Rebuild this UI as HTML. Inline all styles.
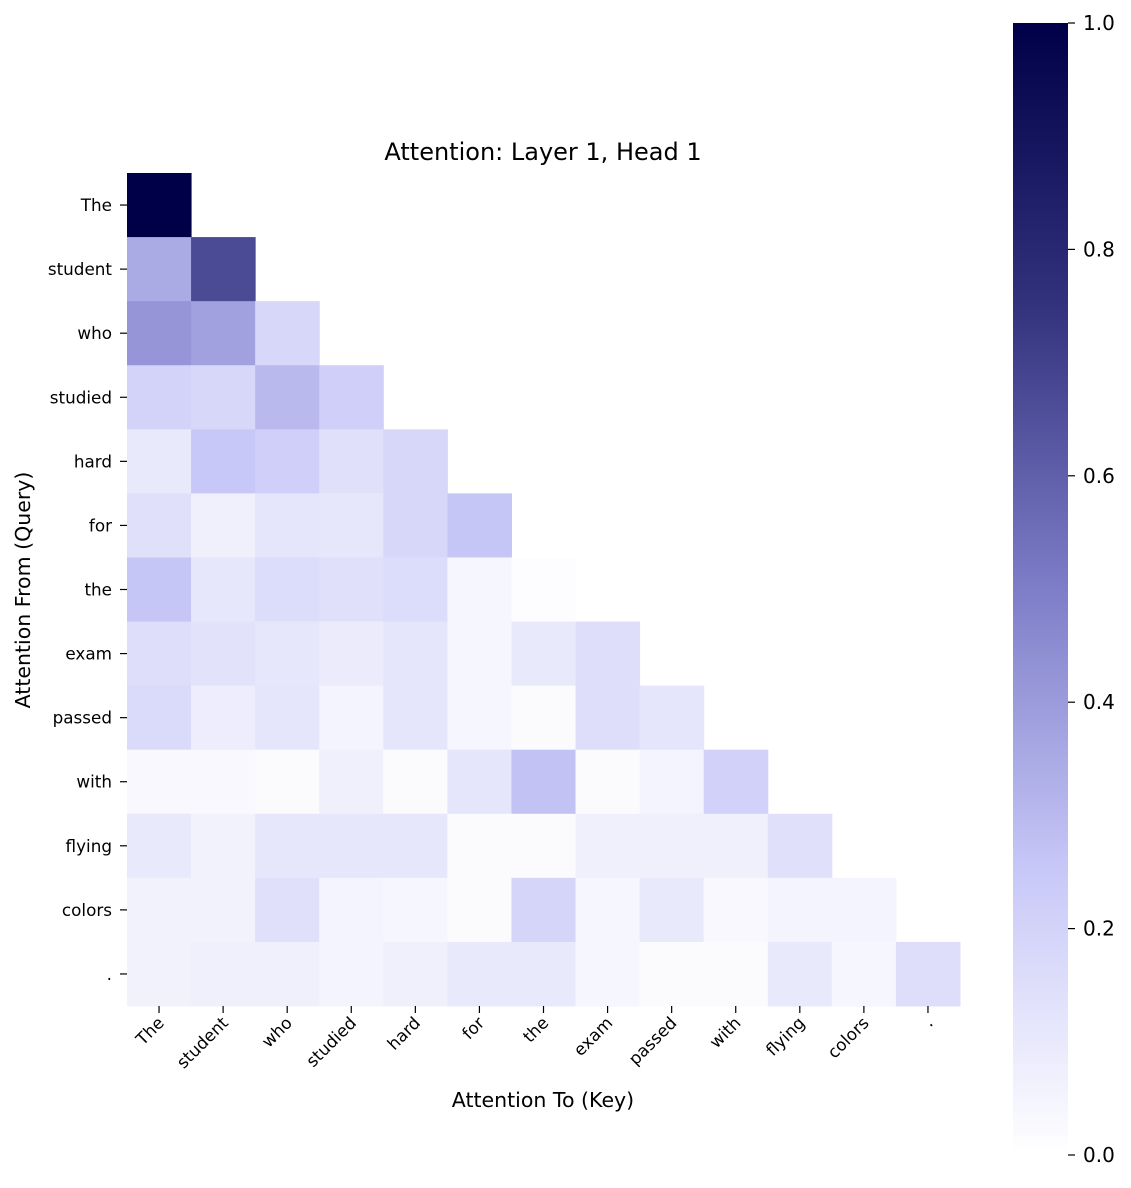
<!DOCTYPE html>
<html><head><meta charset="utf-8"><style>
html,body{margin:0;padding:0;background:#fff;}
svg text{font-family:"DejaVu Sans","Liberation Sans",sans-serif;fill:#000;}
</style></head><body>
<svg id="chart" width="1131" height="1183" viewBox="0 0 1131 1183" xmlns="http://www.w3.org/2000/svg">
<defs><linearGradient id="cbgrad" x1="0" y1="1" x2="0" y2="0">
<stop offset="0" stop-color="rgb(255,255,255)"/><stop offset="0.25" stop-color="rgb(200,200,248)"/><stop offset="0.5" stop-color="rgb(125,125,200)"/><stop offset="0.75" stop-color="rgb(50,50,125)"/><stop offset="1" stop-color="rgb(0,0,72)"/></linearGradient></defs>
<text x="543" y="160" font-size="24" text-anchor="middle">Attention: Layer 1, Head 1</text>
<g id="cells"></g>
<g id="yt"></g>
<g id="xt"></g>
<text x="543" y="1107" font-size="20.5" text-anchor="middle">Attention To (Key)</text>
<text x="0" y="0" font-size="20.5" text-anchor="middle" transform="translate(30,590) rotate(-90)">Attention From (Query)</text>
<rect x="1013" y="23" width="55" height="1132" fill="url(#cbgrad)"/>
<g id="cb"></g>
</svg>
<script>
const tokens = ["The","student","who","studied","hard","for","the","exam","passed","with","flying","colors","."];
const row0 = [1.0];
const row1 = [0.35,0.67];
const row2 = [0.42,0.38,0.18];
const row3 = [0.2,0.18,0.3,0.22];
const row4 = [0.1,0.25,0.22,0.14,0.18];
const row5 = [0.14,0.07,0.12,0.11,0.18,0.26];
const row6 = [0.26,0.11,0.16,0.14,0.16,0.04,0.01];
const row7 = [0.15,0.13,0.11,0.09,0.12,0.04,0.1,0.15];
const row8 = [0.17,0.08,0.12,0.05,0.12,0.04,0.02,0.15,0.12];
const row9 = [0.03,0.03,0.02,0.07,0.02,0.12,0.27,0.02,0.05,0.21];
const row10 = [0.1,0.06,0.11,0.11,0.11,0.02,0.02,0.07,0.07,0.07,0.14];
const row11 = [0.06,0.06,0.14,0.05,0.04,0.02,0.19,0.04,0.1,0.03,0.05,0.05];
const row12 = [0.06,0.07,0.07,0.05,0.07,0.1,0.1,0.04,0.02,0.02,0.1,0.04,0.15];
const rows = [row0,row1,row2,row3,row4,row5,row6,row7,row8,row9,row10,row11,row12];
const cbTicks = [0,0.2,0.4,0.6,0.8,1.0];
const cbLabels = ["0.0","0.2","0.4","0.6","0.8","1.0"];

const NS="http://www.w3.org/2000/svg";
const X0=127, Y0=173, CW=(960-127)/13;
const xs=i=>X0+i*CW, ys=i=>Y0+i*CW;
const cbY=v=>1155-v*1132;
const stops=[[0,255,255,255],[0.25,200,200,248],[0.5,125,125,200],[0.75,50,50,125],[1,0,0,72]];
function color(v){v=Math.max(0,Math.min(1,v));for(let k=1;k<stops.length;k++){if(v<=stops[k][0]){const a=stops[k-1],b=stops[k],t=(v-a[0])/(b[0]-a[0]);return `rgb(${[1,2,3].map(j=>Math.round(a[j]+(b[j]-a[j])*t)).join(',')})`;}}return "rgb(0,0,72)";}
function mk(tag,attrs,parent){const e=document.createElementNS(NS,tag);for(const k in attrs)e.setAttribute(k,attrs[k]);parent.appendChild(e);return e;}
const cells=document.getElementById('cells');
rows.forEach((r,i)=>r.forEach((v,j)=>{
 const c=mk('rect',{x:xs(j),y:ys(i),width:CW+0.5,height:CW+0.5,fill:color(v)},cells);
 
 
}));
const yt=document.getElementById('yt'), xt=document.getElementById('xt');
tokens.forEach((t,i)=>{
 const cy=ys(i)+CW/2, cx=xs(i)+CW/2;
 mk('line',{x1:120,x2:127,y1:cy,y2:cy,stroke:'#000','stroke-width':1.2},yt);
 const l=mk('text',{x:112,y:cy+6,'font-size':16.8,'text-anchor':'end'},yt);
 l.textContent=t;
 
 
 mk('line',{x1:cx,x2:cx,y1:1006,y2:1013,stroke:'#000','stroke-width':1.2},xt);
 const xl=mk('text',{x:0,y:0,'font-size':16.8,'text-anchor':'end',transform:`translate(${cx+6},${1024}) rotate(-45)`},xt);
 xl.textContent=t;
 
 
});
const cb=document.getElementById('cb');
cbTicks.forEach((v,i)=>{
 const y=cbY(v);
 mk('line',{x1:1068,x2:1075,y1:y,y2:y,stroke:'#000','stroke-width':1.2},cb);
 const l=mk('text',{x:1083,y:y+7,'font-size':20},cb);
 l.textContent=cbLabels[i];
 
 
});
</script>
</body></html>
